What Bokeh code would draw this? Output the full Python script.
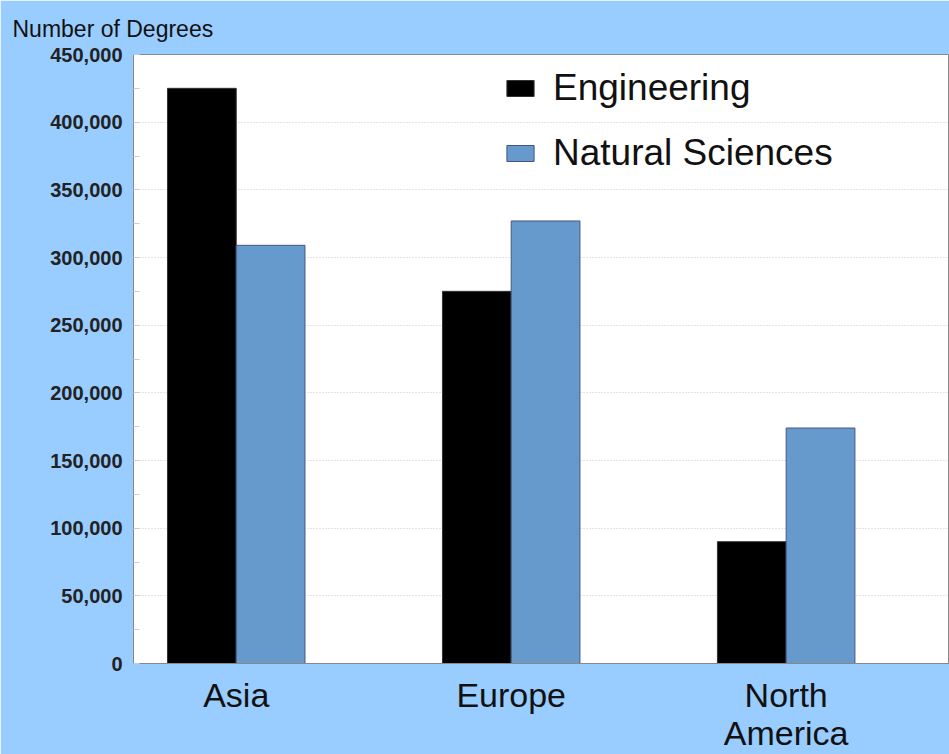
from bokeh.plotting import figure
from bokeh.models import ColumnDataSource, Range1d, FixedTicker, Legend, LegendItem, NumeralTickFormatter
from bokeh.transform import dodge
from bokeh.embed import file_html
from bokeh.resources import INLINE

regions = ["Asia", "Europe", "North America"]
tick_labels = ["Asia", "Europe", "North\nAmerica"]
engineering = [425000, 275000, 90000]
natural_sciences = [309000, 327000, 174000]
y_ticks = [0, 50000, 100000, 150000, 200000, 250000, 300000, 350000, 400000, 450000]
y_axis_title = "Number of Degrees"

idx = list(range(len(regions)))
src = ColumnDataSource(dict(x=idx, region=regions, eng=engineering, ns=natural_sciences))

p = figure(width=949, height=754, output_backend="svg", toolbar_location=None,
           x_range=Range1d(-0.3736, 2.594), y_range=Range1d(0, 450000),
           min_border_left=133, min_border_right=0, min_border_top=54, min_border_bottom=91,
           title=y_axis_title)
p.border_fill_color = "#99ccff"
p.background_fill_color = "white"
p.outline_line_color = "#888888"

p.title.text_font = "Liberation Sans"
p.title.text_font_size = "23px"
p.title.text_font_style = "normal"
p.title.text_color = "#111111"
p.title.align = "left"
p.title.offset = -121
p.title.standoff = 25

r1 = p.vbar(x=dodge("x", -0.125, range=p.x_range), top="eng", width=0.25, source=src,
            fill_color="black", line_color="#333333", line_width=1)
r2 = p.vbar(x=dodge("x", 0.125, range=p.x_range), top="ns", width=0.25, source=src,
            fill_color="#6699cc", line_color="#445588", line_width=1)

legend = Legend(items=[LegendItem(label="Engineering", renderers=[r1]),
                       LegendItem(label="Natural Sciences", renderers=[r2])],
                location=(370, 488))
legend.background_fill_alpha = 0
legend.border_line_color = None
legend.label_text_font = "Liberation Sans"
legend.label_text_font_size = "37px"
legend.label_text_color = "#111111"
legend.glyph_width = 34
legend.glyph_height = 20
legend.label_height = 44
legend.spacing = 21
legend.padding = 0
legend.margin = 0
legend.label_standoff = 16
p.add_layout(legend, "center")

# y axis
yax = p.yaxis[0]
yax.ticker = FixedTicker(ticks=y_ticks, minor_ticks=[v + 25000 for v in y_ticks[:-1]])
yax.formatter = NumeralTickFormatter(format="0,0")
yax.major_label_text_font = "Liberation Sans"
yax.major_label_text_font_size = "20px"
yax.major_label_text_font_style = "bold"
yax.major_label_text_color = "#222222"
yax.major_label_standoff = 11
yax.axis_line_color = "#888888"
yax.major_tick_in = 6
yax.major_tick_out = 0
yax.minor_tick_in = 6
yax.minor_tick_out = 0
yax.major_tick_line_color = "#cccccc"
yax.minor_tick_line_color = "#cccccc"

# x axis
xax = p.xaxis[0]
xax.ticker = FixedTicker(ticks=idx)
xax.major_label_overrides = {i: t for i, t in zip(idx, tick_labels)}
xax.major_label_text_font = "Liberation Sans"
xax.major_label_text_font_size = "34px"
xax.major_label_text_line_height = 1.0
xax.major_label_text_color = "#111111"
xax.major_label_standoff = 6
xax.major_tick_line_color = None
xax.minor_tick_line_color = None
xax.axis_line_color = "#888888"

p.xgrid.grid_line_color = None
p.ygrid.grid_line_color = "#c8c8c8"
p.ygrid.grid_line_dash = "1 2"

open("out.html", "w").write(file_html(p, INLINE))
